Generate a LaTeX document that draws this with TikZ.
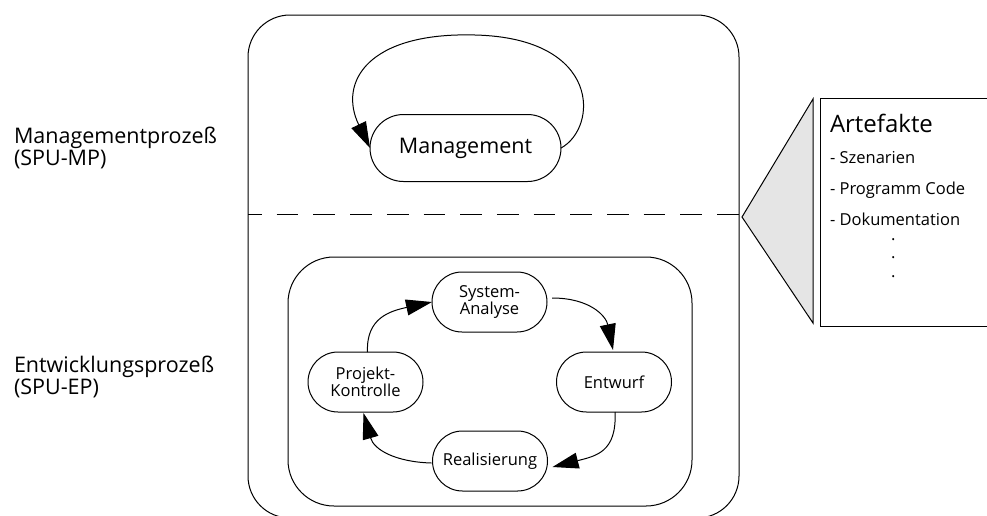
\documentclass[tikz,border=0pt]{standalone}
\usepackage{fontspec}
\setmainfont{Open Sans}
\usetikzlibrary{shapes.misc,arrows.meta,calc}

\begin{document}
\begin{tikzpicture}[x=1pt,y=-1pt,
  line width=1pt,
  every node/.style={inner sep=0pt, outer sep=0pt},
  proc/.style={draw, rounded rectangle, minimum width=115pt, minimum height=60pt,
    align=center, font=\fontsize{16.5}{13}\selectfont},
  bigproc/.style={draw, rounded rectangle, minimum width=191pt, minimum height=67pt,
    font=\fontsize{21.5}{21}\selectfont},
  frame/.style={draw, rounded corners=#1},
  flow/.style={-{Triangle[length=26pt,width=16pt]}},
  phase/.style={anchor=base west, align=left, font=\fontsize{21.5}{20}\selectfont},
  item/.style={anchor=base west, font=\fontsize{16.5}{18}\selectfont},
  sep/.style={line width=0.9pt, dash pattern=on 21.7pt off 15pt, dash phase=8pt},
  artfill/.style={fill=black!10}]

\useasboundingbox (0,0) rectangle (987,515);
\clip (0,0) rectangle (987,515);

% phase labels on the left (anchored at the baseline of the last line)
\node[phase] (mp) at (14,165) {Managementprozeß\\(SPU-MP)};
\node[phase] (ep) at (14,394) {Entwicklungsprozeß\\(SPU-EP)};

% outer process frame and the divider between the two processes
\node[frame=42pt, minimum width=491pt, minimum height=503pt] (outer) at (493.5,266.5) {};
\coordinate (divl) at (248,214);
\coordinate (divr) at (739,214);
\draw[sep] (divl) -- (divr);

% management process with its self loop
\node[bigproc] (mg) at (465.5,148) {Management};
\draw[flow] (mg.east) .. controls (598,128) and (602,38) .. (475,35)
  .. controls (368,32) and (338,82) .. (mg.west);

% development cycle
\node[frame=46pt, minimum width=404pt, minimum height=249pt] (dev) at (490,381.5) {};
\node[proc] (sa) at (489.5,302) {System-\\Analyse};
\node[proc] (en) at (614,382) {Entwurf};
\node[proc] (re) at (490,461) {Realisierung};
\node[proc] (pk) at (365.5,382) {Projekt-\\Kontrolle};

\draw[flow] ($(pk.north)+(2,0)$) .. controls (366,318) and (390,311) .. (sa.west);
\draw[flow] ($(sa.east)+(5,-4)$) .. controls (590,298) and (606,316) .. ($(en.north)+(-1,-2)$);
\draw[flow] ($(en.south)+(1,0)$) .. controls (617,452) and (596,456) .. ($(re.east)+(5,6)$);
\draw[flow] ($(re.west)+(-1,2)$) .. controls (396,462) and (374,450) .. ($(pk.south)+(-2,1)$);

% artefacts attached to the right of the frame
\filldraw[artfill] (742,217) -- (813,99) -- (813,323) -- cycle;
\node[draw, anchor=north west, minimum width=190pt, minimum height=228pt] (art) at (820,98) {};
\node[anchor=base west, font=\fontsize{24}{26}\selectfont] (arttitle) at (830,132) {Artefakte};
\node[item] (a1) at (830,163) {- Szenarien};
\node[item] (a2) at (830,194) {- Programm Code};
\node[item] (a3) at (830,225) {- Dokumentation};
\node[item] (d1) at (891,240) {.};
\node[item] (d2) at (891,258) {.};
\node[item] (d3) at (891,277) {.};

\end{tikzpicture}
\end{document}
